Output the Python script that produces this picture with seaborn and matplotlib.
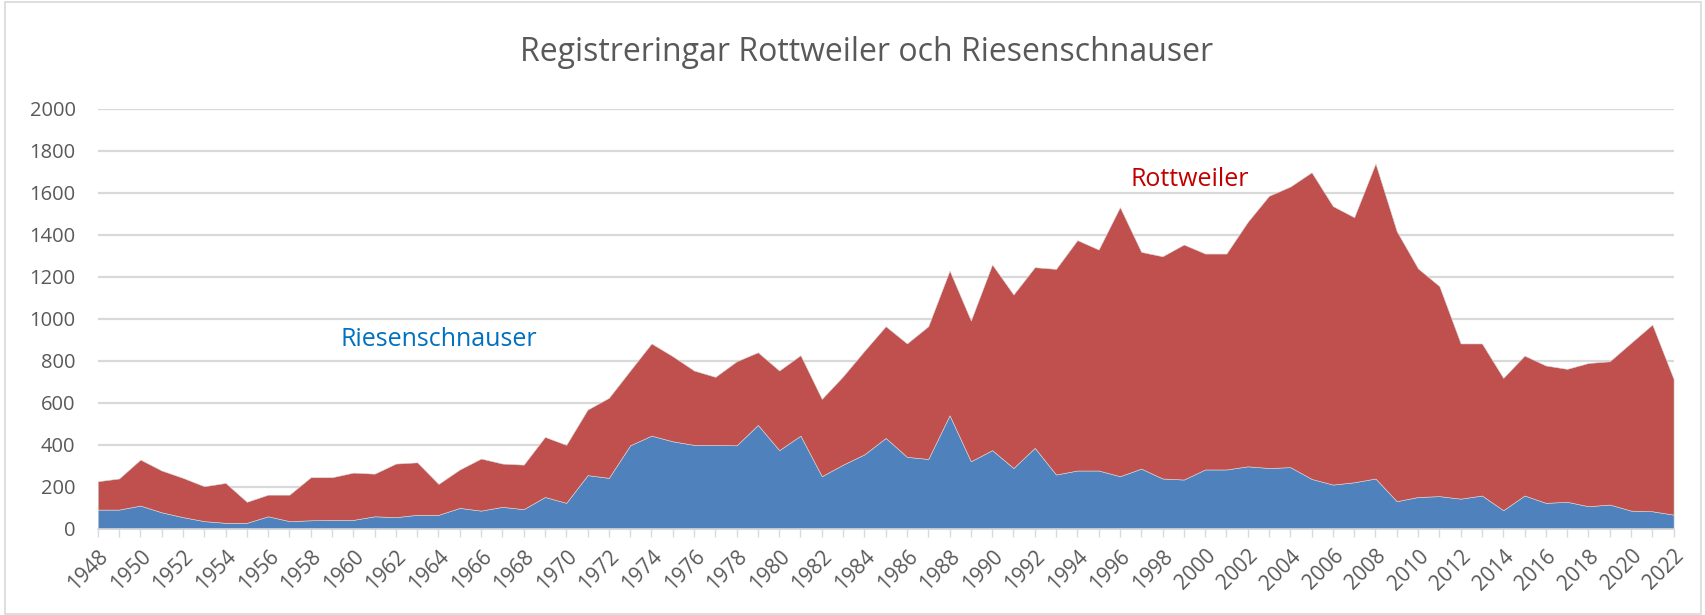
import numpy as np
import pandas as pd
import matplotlib
matplotlib.use('Agg')
import matplotlib.pyplot as plt
import seaborn as sns
from matplotlib.patches import Rectangle

years = list(range(1948, 2023))

# Riesenschnauser registrations per year
riesen = [92, 92, 111, 79, 56, 37, 29, 29, 60, 37,
          41, 43, 43, 60, 56, 67, 67, 100, 87, 105,
          94, 152, 124, 256, 243, 398, 444, 417, 400, 400,
          398, 495, 375, 444, 251, 306, 355, 433, 343, 333,
          541, 322, 375, 290, 386, 259, 278, 278, 251, 287,
          240, 235, 283, 283, 298, 290, 294, 238, 211, 222,
          240, 132, 152, 156, 144, 159, 89, 159, 124, 129,
          108, 116, 87, 84, 68]

# total (Rottweiler + Riesenschnauser) read from the top of the stack
total = [227, 240, 330, 278, 243, 203, 219, 129, 163, 163,
         246, 246, 268, 263, 311, 317, 214, 283, 335, 311,
         306, 438, 400, 568, 624, 754, 883, 822, 754, 724,
         798, 841, 754, 827, 619, 727, 848, 965, 883, 965,
         1230, 992, 1259, 1116, 1246, 1238, 1375, 1330, 1532, 1319,
         1298, 1354, 1311, 1311, 1462, 1586, 1630, 1698, 1537, 1484,
         1740, 1417, 1240, 1156, 883, 883, 719, 825, 778, 762,
         790, 798, 886, 973, 714]

rottweiler = [t - r for t, r in zip(total, riesen)]

df = pd.DataFrame({'Year': years, 'Riesenschnauser': riesen, 'Rottweiler': rottweiler})

sns.set_theme(style='white')
plt.rcParams['font.family'] = ['Open Sans', 'DejaVu Sans']

fig = plt.figure(figsize=(17.06, 6.15), dpi=100)
ax = fig.add_axes([0.0573, 0.140, 0.9237, 0.683])

ax.stackplot(df['Year'], df['Riesenschnauser'], df['Rottweiler'],
             colors=['#4F81BD', '#C0504D'], edgecolor='#d8d8d8', linewidth=0.4)

ax.set_xlim(1948, 2022)
ax.set_ylim(0, 2000)
ax.set_yticks(range(0, 2001, 200))
ax.yaxis.grid(True, color='#d9d9d9', linewidth=1.6)
ax.set_axisbelow(True)

ax.set_xticks(range(1948, 2023, 2))
ax.set_xticks(range(1948, 2023), minor=True)
ax.set_xticklabels([str(y) for y in range(1948, 2023, 2)], rotation=45,
                   ha='right', rotation_mode='anchor')
ax.tick_params(axis='x', which='both', direction='out', length=6, width=1,
               color='#d9d9d9', bottom=True, labelsize=15, labelcolor='#595959', pad=6)
ax.tick_params(axis='y', length=0, labelsize=14.5, labelcolor='#595959', pad=16)

for s in ['top', 'right', 'left']:
    ax.spines[s].set_visible(False)
ax.spines['bottom'].set_color('#d9d9d9')
ax.spines['bottom'].set_linewidth(1.2)

ax.set_xlabel('')
ax.set_ylabel('')

ax.text(1964, 900, 'Riesenschnauser', color='#0070C0', fontsize=18,
        ha='center', va='center')
ax.text(1999.3, 1666, 'Rottweiler', color='#C00000', fontsize=18,
        ha='center', va='center')

fig.text(0.508, 0.915, 'Registreringar Rottweiler och Riesenschnauser',
         ha='center', va='center', fontsize=23, color='#595959')

fig.patches.append(Rectangle((0.003, 0.002), 0.994, 0.995, transform=fig.transFigure,
                             fill=False, edgecolor='#d9d9d9', linewidth=1.2))

fig.savefig('out.png', dpi=100)
